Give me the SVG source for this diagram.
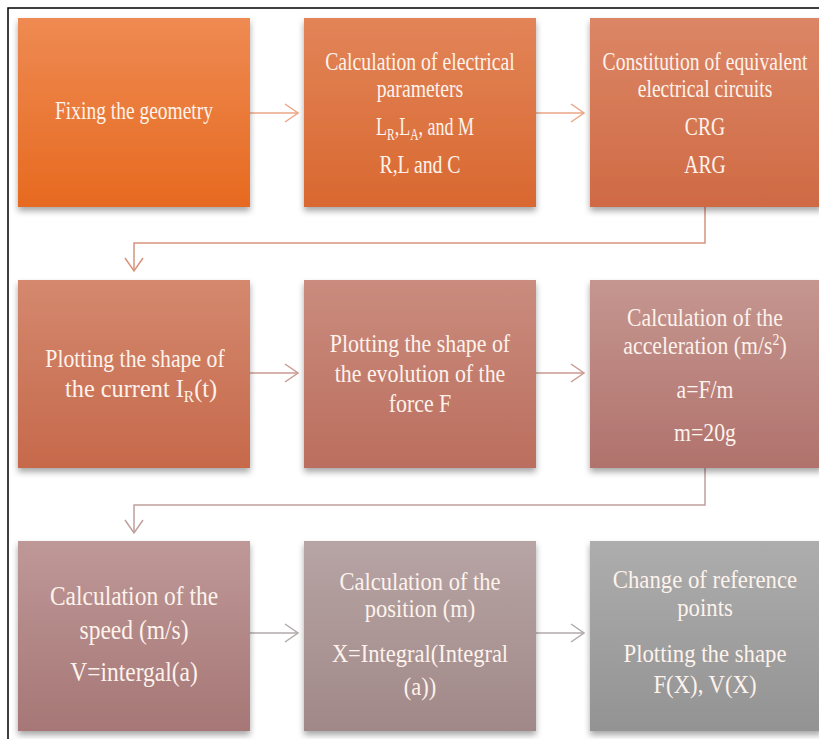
<svg xmlns="http://www.w3.org/2000/svg" width="819" height="739" viewBox="0 0 819 739">
<style>
.t{font-family:"Liberation Serif","Times New Roman",serif;font-size:25px;fill:#FDF3EC;text-anchor:middle}
.big{font-size:27px}
.sub{font-size:16px}
.c{fill:none;stroke-width:1.5}
</style>
<defs>
<filter id="sh" x="-10%" y="-10%" width="120%" height="125%">
<feDropShadow dx="0" dy="4" stdDeviation="3" flood-color="#000" flood-opacity="0.35"/>
</filter>
<linearGradient id="g1" x1="0" y1="0" x2="0" y2="1"><stop offset="0" stop-color="#EE8A52"/><stop offset="1" stop-color="#E76A20"/></linearGradient>
<linearGradient id="g2" x1="0" y1="0" x2="0" y2="1"><stop offset="0" stop-color="#E28458"/><stop offset="1" stop-color="#D96830"/></linearGradient>
<linearGradient id="g3" x1="0" y1="0" x2="0" y2="1"><stop offset="0" stop-color="#DC8666"/><stop offset="1" stop-color="#CF6A44"/></linearGradient>
<linearGradient id="g4" x1="0" y1="0" x2="0" y2="1"><stop offset="0" stop-color="#D4886E"/><stop offset="1" stop-color="#C6694B"/></linearGradient>
<linearGradient id="g5" x1="0" y1="0" x2="0" y2="1"><stop offset="0" stop-color="#CA8C7E"/><stop offset="1" stop-color="#BB6E5E"/></linearGradient>
<linearGradient id="g6" x1="0" y1="0" x2="0" y2="1"><stop offset="0" stop-color="#C59690"/><stop offset="1" stop-color="#B1726C"/></linearGradient>
<linearGradient id="g7" x1="0" y1="0" x2="0" y2="1"><stop offset="0" stop-color="#BE9897"/><stop offset="1" stop-color="#A67776"/></linearGradient>
<linearGradient id="g8" x1="0" y1="0" x2="0" y2="1"><stop offset="0" stop-color="#B7A4A4"/><stop offset="1" stop-color="#A18888"/></linearGradient>
<linearGradient id="g9" x1="0" y1="0" x2="0" y2="1"><stop offset="0" stop-color="#ADADAD"/><stop offset="1" stop-color="#939393"/></linearGradient>
<marker id="m1" markerUnits="userSpaceOnUse" markerWidth="30" markerHeight="30" viewBox="-15 -15 30 30" refX="0" refY="0" orient="auto"><path d="M-13,-9 L0,0 L-13,9" fill="none" stroke="#EBA686" stroke-width="1.5"/></marker>
<marker id="m2" markerUnits="userSpaceOnUse" markerWidth="30" markerHeight="30" viewBox="-15 -15 30 30" refX="0" refY="0" orient="auto"><path d="M-13,-9 L0,0 L-13,9" fill="none" stroke="#D8937C" stroke-width="1.5"/></marker>
<marker id="m3" markerUnits="userSpaceOnUse" markerWidth="30" markerHeight="30" viewBox="-15 -15 30 30" refX="0" refY="0" orient="auto"><path d="M-13,-9 L0,0 L-13,9" fill="none" stroke="#CB9A90" stroke-width="1.5"/></marker>
<marker id="m4" markerUnits="userSpaceOnUse" markerWidth="30" markerHeight="30" viewBox="-15 -15 30 30" refX="0" refY="0" orient="auto"><path d="M-13,-9 L0,0 L-13,9" fill="none" stroke="#BFA09C" stroke-width="1.5"/></marker>
<marker id="m5" markerUnits="userSpaceOnUse" markerWidth="30" markerHeight="30" viewBox="-15 -15 30 30" refX="0" refY="0" orient="auto"><path d="M-13,-9 L0,0 L-13,9" fill="none" stroke="#B2AAAA" stroke-width="1.5"/></marker>
</defs>
<rect width="819" height="739" fill="#FFFFFF"/>
<path d="M8,739 L8,8 L819,8" fill="none" stroke="#000" stroke-width="1.5"/>

<g id="connectors">
<path class="c" d="M250,113 L298,113" stroke="#EBA686" marker-end="url(#m1)"/>
<path class="c" d="M536,113 L584,113" stroke="#EBA686" marker-end="url(#m1)"/>
<path class="c" d="M705,207 L705,243 L134,243 L134,271" stroke="#D8937C" marker-end="url(#m2)"/>
<path class="c" d="M250,373 L298,373" stroke="#CB9A90" marker-end="url(#m3)"/>
<path class="c" d="M536,373 L584,373" stroke="#CB9A90" marker-end="url(#m3)"/>
<path class="c" d="M705,468 L705,505 L134,505 L134,533" stroke="#BFA09C" marker-end="url(#m4)"/>
<path class="c" d="M250,633 L298,633" stroke="#B2AAAA" marker-end="url(#m5)"/>
<path class="c" d="M536,633 L584,633" stroke="#B2AAAA" marker-end="url(#m5)"/>
</g>

<g id="n1">
<rect x="18" y="18" width="232" height="189" fill="url(#g1)" filter="url(#sh)"/>
<g transform="translate(134,0) scale(0.78,1)">
<text class="t" x="0" y="119">Fixing the geometry</text>
</g>
</g>
<g id="n2">
<rect x="304" y="18" width="232" height="189" fill="url(#g2)" filter="url(#sh)"/>
<g transform="translate(420,0) scale(0.79,1)">
<text class="t" x="0" y="70">Calculation of electrical</text>
<text class="t" x="0" y="97">parameters</text>
<text class="t" x="0" y="173">R,L and C</text>
</g>
<g transform="translate(425,0) scale(0.72,1)">
<text class="t" x="0" y="135">L<tspan class="sub" dy="5">R</tspan><tspan dy="-5">,L</tspan><tspan class="sub" dy="5">A</tspan><tspan dy="-5">, and M</tspan></text>
</g>
</g>
<g id="n3">
<rect x="590" y="18" width="232" height="189" fill="url(#g3)" filter="url(#sh)"/>
<g transform="translate(705,0) scale(0.785,1)">
<text class="t" x="0" y="70">Constitution of equivalent</text>
<text class="t" x="0" y="97">electrical circuits</text>
<text class="t" x="0" y="135">CRG</text>
<text class="t" x="0" y="173">ARG</text>
</g>
</g>

<g id="n4">
<rect x="18" y="280" width="232" height="188" fill="url(#g4)" filter="url(#sh)"/>
<g transform="translate(135,0) scale(0.87,1)">
<text class="t" x="0" y="367">Plotting the shape of</text>
<text class="t" x="7" y="397" textLength="175" lengthAdjust="spacingAndGlyphs">the current I<tspan class="sub" dy="5">R</tspan><tspan dy="-5">(t)</tspan></text>
</g>
</g>
<g id="n5">
<rect x="304" y="280" width="232" height="188" fill="url(#g5)" filter="url(#sh)"/>
<g transform="translate(420,0) scale(0.875,1)">
<text class="t" x="0" y="352">Plotting the shape of</text>
<text class="t" x="0" y="382">the evolution of the</text>
<text class="t" x="0" y="412">force F</text>
</g>
</g>
<g id="n6">
<rect x="590" y="280" width="232" height="188" fill="url(#g6)" filter="url(#sh)"/>
<g transform="translate(705,0) scale(0.87,1)">
<text class="t" x="0" y="326">Calculation of the</text>
<text class="t" x="0" y="354">acceleration (m/s<tspan class="sub" dy="-9">2</tspan><tspan dy="9">)</tspan></text>
<text class="t" x="0" y="398">a=F/m</text>
<text class="t" x="0" y="441">m=20g</text>
</g>
</g>

<g id="n7">
<rect x="18" y="541" width="232" height="190" fill="url(#g7)" filter="url(#sh)"/>
<g transform="translate(134,0) scale(0.87,1)">
<text class="t big" x="0" y="605">Calculation of the</text>
<text class="t big" x="0" y="639">speed (m/s)</text>
<text class="t big" x="0" y="681">V=intergal(a)</text>
</g>
</g>
<g id="n8">
<rect x="304" y="541" width="232" height="190" fill="url(#g8)" filter="url(#sh)"/>
<g transform="translate(420,0) scale(0.9,1)">
<text class="t" x="0" y="590">Calculation of the</text>
<text class="t" x="0" y="617">position (m)</text>
<text class="t" x="0" y="662">X=Integral(Integral</text>
<text class="t" x="0" y="695">(a))</text>
</g>
</g>
<g id="n9">
<rect x="590" y="541" width="232" height="190" fill="url(#g9)" filter="url(#sh)"/>
<g transform="translate(705,0) scale(0.91,1)">
<text class="t" x="0" y="588">Change of reference</text>
<text class="t" x="0" y="616">points</text>
<text class="t" x="0" y="662">Plotting the shape</text>
<text class="t" x="0" y="693">F(X), V(X)</text>
</g>
</g>
</svg>
